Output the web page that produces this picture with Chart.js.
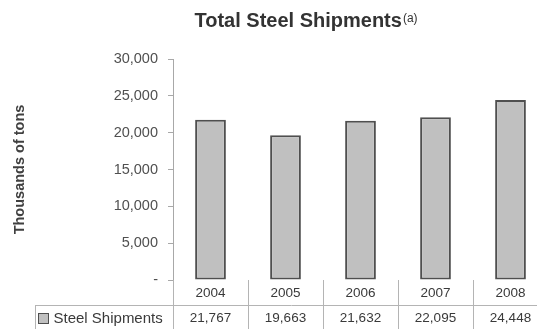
<!DOCTYPE html>
<html>
<head>
<meta charset="utf-8">
<script src="https://cdn.jsdelivr.net/npm/chart.js@4.4.1/dist/chart.umd.min.js"></script>
<style>
  html, body { margin: 0; padding: 0; background: #fff; overflow: hidden; }
  #wrap { position: relative; width: 548px; height: 329px; }
</style>
</head>
<body>
<div id="wrap"><canvas id="shipChart"></canvas></div>
<script>
const years = ['2004', '2005', '2006', '2007', '2008'];
const shipments = [21767, 19663, 21632, 22095, 24448];
const seriesName = 'Steel Shipments';
const yTicks = [0, 5000, 10000, 15000, 20000, 25000, 30000];
const chartTitle = 'Total Steel Shipments';
const titleNote = '(a)';
const yTitle = 'Thousands of tons';

const FONT = "'Liberation Sans', Arial, Helvetica, sans-serif";
const BAR_FILL = '#c0c0c0';
const BAR_EDGE = '#4f4f4f';
const fmt = v => (v === 0 ? '-' : v.toLocaleString('en-US'));

// title with the small raised footnote marker
const noteTitle = {
  id: 'noteTitle',
  afterDraw(chart, args, opts) {
    const ctx = chart.ctx;
    ctx.save();
    ctx.fillStyle = opts.color;
    ctx.textBaseline = 'alphabetic';
    ctx.font = `bold ${opts.size}px ${FONT}`;
    const w1 = ctx.measureText(chartTitle).width;
    ctx.font = `${opts.noteSize}px ${FONT}`;
    const w2 = ctx.measureText(titleNote).width;
    const x0 = opts.centerX - (w1 + w2 + 1) / 2;
    ctx.font = `bold ${opts.size}px ${FONT}`;
    ctx.fillText(chartTitle, x0, opts.baseline);
    ctx.font = `${opts.noteSize}px ${FONT}`;
    ctx.fillText(titleNote, x0 + w1 + 1, opts.baseline - 5);
    ctx.restore();
  }
};

// years / values grid under the bars, columns follow the x scale
const dataTable = {
  id: 'dataTable',
  afterDraw(chart, args, opts) {
    const { ctx, chartArea } = chart;
    const x = chart.scales.x;
    const half = (x.getPixelForTick(1) - x.getPixelForTick(0)) / 2;
    const top = chartArea.bottom;
    const mid = top + opts.rowHeight;
    const bottom = mid + opts.rowHeight;

    ctx.save();
    ctx.strokeStyle = opts.lineColor;
    ctx.lineWidth = 1;
    ctx.beginPath();
    ctx.moveTo(opts.legendLeft, Math.round(mid) + 0.5);
    ctx.lineTo(chart.width, Math.round(mid) + 0.5);
    ctx.moveTo(opts.legendLeft + 0.5, mid);
    ctx.lineTo(opts.legendLeft + 0.5, bottom);
    const edges = [x.getPixelForTick(0) - half].concat(years.map((_, i) => x.getPixelForTick(i) + half));
    edges.forEach(e => {
      const ex = Math.round(e) + 0.5;
      ctx.moveTo(ex, top);
      ctx.lineTo(ex, bottom);
    });
    ctx.stroke();

    ctx.fillStyle = opts.textColor;
    ctx.font = `${opts.size}px ${FONT}`;
    ctx.textAlign = 'center';
    ctx.textBaseline = 'middle';
    years.forEach((yr, i) => {
      const cx = x.getPixelForTick(i);
      ctx.fillText(yr, cx, top + opts.rowHeight / 2 + 1);
      ctx.fillText(fmt(shipments[i]), cx, mid + opts.rowHeight / 2 + 1);
    });

    // legend key
    const box = 10;
    const bx = opts.legendLeft + 3.5;
    const by = Math.round(mid + (opts.rowHeight - box) / 2) + 0.5;
    ctx.fillStyle = BAR_FILL;
    ctx.fillRect(bx, by, box, box);
    ctx.strokeStyle = BAR_EDGE;
    ctx.strokeRect(bx, by, box, box);
    ctx.fillStyle = opts.textColor;
    ctx.textAlign = 'left';
    ctx.font = `${opts.labelSize}px ${FONT}`;
    ctx.fillText(seriesName, bx + box + 5, mid + opts.rowHeight / 2 + 1);
    ctx.restore();
  }
};

new Chart(document.getElementById('shipChart'), {
  type: 'bar',
  data: {
    labels: years,
    datasets: [{
      label: seriesName,
      data: shipments,
      backgroundColor: BAR_FILL,
      borderColor: BAR_EDGE,
      borderWidth: 2,
      borderSkipped: false,
      barPercentage: 0.41,
      categoryPercentage: 1
    }]
  },
  options: {
    responsive: true,
    maintainAspectRatio: false,
    devicePixelRatio: 1,
    animation: false,
    layout: { padding: { top: 59, bottom: 49, left: 0, right: 0 } },
    plugins: {
      legend: { display: false },
      title: { display: false },
      tooltip: { enabled: false },
      noteTitle: { centerX: 306, baseline: 27, size: 20, noteSize: 12, color: '#333' },
      dataTable: { rowHeight: 25, legendLeft: 35, size: 13.5, labelSize: 15, lineColor: '#b4b4b4', textColor: '#3a3a3a' }
    },
    scales: {
      x: { display: false },
      y: {
        min: 0,
        max: 30000,
        afterFit: s => { s.width = 173; },
        afterBuildTicks: s => { s.ticks = yTicks.map(v => ({ value: v })); },
        border: { color: '#a8a8a8', width: 1 },
        grid: { drawOnChartArea: false, tickLength: 5, color: '#a8a8a8' },
        ticks: {
          padding: 10,
          color: '#505050',
          font: { family: FONT, size: 14.5 },
          callback: v => fmt(v)
        },
        title: {
          display: true,
          text: yTitle,
          color: '#404040',
          font: { family: FONT, size: 14.5, weight: 'bold' },
          padding: { top: 11, bottom: 0 }
        }
      }
    }
  },
  plugins: [noteTitle, dataTable]
});
</script>
</body>
</html>
